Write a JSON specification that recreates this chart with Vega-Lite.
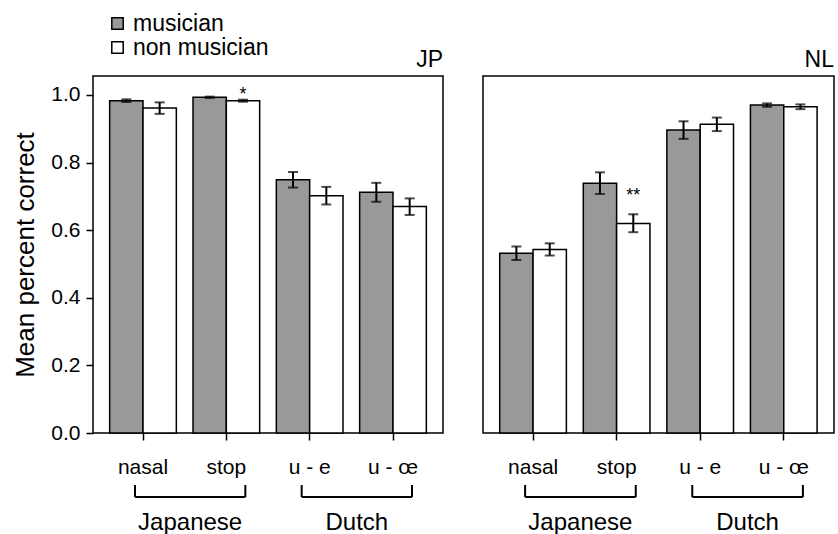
{
  "$schema": "https://vega.github.io/schema/vega-lite/v6.json",
  "padding": {"left": 12, "top": 12, "right": 0, "bottom": 0},
  "config": {
    "font": "Liberation Sans",
    "view": {"stroke": "black", "strokeWidth": 1.5},
    "title": {"fontSize": 23, "fontWeight": "normal", "anchor": "end", "color": "black", "offset": 4},
    "axis": {"labelColor": "black", "titleColor": "black", "tickColor": "black", "grid": false, "domain": false}
  },
  "datasets": {
    "bars": [
      {"panel": "JP", "cond": "nasal", "group": "musician", "mean": 0.983, "lo": 0.979, "hi": 0.987},
      {"panel": "JP", "cond": "nasal", "group": "non musician", "mean": 0.961, "lo": 0.944, "hi": 0.978},
      {"panel": "JP", "cond": "stop", "group": "musician", "mean": 0.993, "lo": 0.991, "hi": 0.995},
      {"panel": "JP", "cond": "stop", "group": "non musician", "mean": 0.983, "lo": 0.980, "hi": 0.986},
      {"panel": "JP", "cond": "u - e", "group": "musician", "mean": 0.749, "lo": 0.726, "hi": 0.772},
      {"panel": "JP", "cond": "u - e", "group": "non musician", "mean": 0.702, "lo": 0.676, "hi": 0.728},
      {"panel": "JP", "cond": "u - œ", "group": "musician", "mean": 0.712, "lo": 0.684, "hi": 0.740},
      {"panel": "JP", "cond": "u - œ", "group": "non musician", "mean": 0.670, "lo": 0.645, "hi": 0.694},
      {"panel": "NL", "cond": "nasal", "group": "musician", "mean": 0.532, "lo": 0.512, "hi": 0.552},
      {"panel": "NL", "cond": "nasal", "group": "non musician", "mean": 0.543, "lo": 0.525, "hi": 0.561},
      {"panel": "NL", "cond": "stop", "group": "musician", "mean": 0.739, "lo": 0.707, "hi": 0.771},
      {"panel": "NL", "cond": "stop", "group": "non musician", "mean": 0.620, "lo": 0.594, "hi": 0.647},
      {"panel": "NL", "cond": "u - e", "group": "musician", "mean": 0.896, "lo": 0.870, "hi": 0.922},
      {"panel": "NL", "cond": "u - e", "group": "non musician", "mean": 0.913, "lo": 0.893, "hi": 0.933},
      {"panel": "NL", "cond": "u - œ", "group": "musician", "mean": 0.970, "lo": 0.965, "hi": 0.975},
      {"panel": "NL", "cond": "u - œ", "group": "non musician", "mean": 0.965, "lo": 0.958, "hi": 0.972}
    ],
    "sig": [
      {"panel": "JP", "cond": "stop", "group": "non musician", "label": "*", "level": 0.986},
      {"panel": "NL", "cond": "stop", "group": "non musician", "label": "**", "level": 0.687}
    ],
    "brackets": [
      {"panel": "JP", "label": "Japanese", "from": "nasal", "to": "stop"},
      {"panel": "JP", "label": "Dutch", "from": "u - e", "to": "u - œ"},
      {"panel": "NL", "label": "Japanese", "from": "nasal", "to": "stop"},
      {"panel": "NL", "label": "Dutch", "from": "u - e", "to": "u - œ"}
    ]
  },
  "hconcat": [
    {
      "title": "JP",
      "width": 350,
      "height": 357,
      "layer": [
        {
          "data": {"name": "bars"},
          "transform": [{"filter": "datum.panel === 'JP'"}],
          "mark": {"type": "bar", "stroke": "black", "strokeWidth": 1.5},
          "encoding": {
            "x": {"field": "cond", "type": "nominal", "sort": null,
                  "scale": {"domain": ["nasal", "stop", "u - e", "u - œ"], "paddingInner": 0.2, "paddingOuter": 0.2},
                  "axis": {"title": null, "labelAngle": 0, "labelFontSize": 21, "tickSize": 7, "tickWidth": 1.5, "labelPadding": 16}},
            "xOffset": {"field": "group", "type": "nominal", "scale": {"domain": ["musician", "non musician"], "paddingInner": 0, "paddingOuter": 0}},
            "y": {"field": "mean", "type": "quantitative", "title": "Mean percent correct",
                  "scale": {"domain": [0, 1.056], "nice": false, "zero": true},
                  "axis": {"values": [0, 0.2, 0.4, 0.6, 0.8, 1.0], "format": ".1f",
                           "labelFontSize": 21, "titleFontSize": 26, "titleFontWeight": "normal", "tickSize": 7, "tickWidth": 1.5,
                           "labelPadding": 6, "titlePadding": 12}},
            "fill": {"field": "group", "type": "nominal",
                     "scale": {"domain": ["musician", "non musician"], "range": ["#999999", "#ffffff"]},
                     "legend": {"title": null, "orient": "none", "legendX": 13, "legendY": -64, "symbolType": "square",
                                "symbolSize": 130, "symbolStrokeColor": "black", "symbolStrokeWidth": 1.5,
                                "labelFontSize": 23, "labelColor": "black", "labelOffset": 4, "rowPadding": 0, "padding": 0}}
          }
        },
        {
          "data": {"name": "bars"},
          "transform": [{"filter": "datum.panel === 'JP'"}],
          "mark": {"type": "rule", "stroke": "black", "strokeWidth": 2},
          "encoding": {
            "x": {"field": "cond", "type": "nominal", "sort": null, "title": null},
            "xOffset": {"field": "group", "type": "nominal"},
            "y": {"field": "lo", "type": "quantitative", "title": "Mean percent correct"},
            "y2": {"field": "hi"}
          }
        },
        {
          "data": {"name": "bars"},
          "transform": [{"filter": "datum.panel === 'JP'"}],
          "mark": {"type": "tick", "color": "black", "size": 10, "thickness": 2, "orient": "horizontal"},
          "encoding": {
            "x": {"field": "cond", "type": "nominal", "sort": null, "title": null},
            "xOffset": {"field": "group", "type": "nominal"},
            "y": {"field": "lo", "type": "quantitative", "title": "Mean percent correct"}
          }
        },
        {
          "data": {"name": "bars"},
          "transform": [{"filter": "datum.panel === 'JP'"}],
          "mark": {"type": "tick", "color": "black", "size": 10, "thickness": 2, "orient": "horizontal"},
          "encoding": {
            "x": {"field": "cond", "type": "nominal", "sort": null, "title": null},
            "xOffset": {"field": "group", "type": "nominal"},
            "y": {"field": "hi", "type": "quantitative", "title": "Mean percent correct"}
          }
        },
        {
          "data": {"name": "sig"},
          "transform": [{"filter": "datum.panel === 'JP'"}],
          "mark": {"type": "text", "fontSize": 18, "color": "black", "baseline": "alphabetic", "align": "center"},
          "encoding": {
            "x": {"field": "cond", "type": "nominal", "sort": null, "title": null},
            "xOffset": {"field": "group", "type": "nominal"},
            "y": {"field": "level", "type": "quantitative", "title": "Mean percent correct"},
            "text": {"field": "label"}
          }
        },
        {
          "data": {"name": "brackets"},
          "transform": [{"filter": "datum.panel === 'JP'"}],
          "mark": {"type": "rule", "stroke": "black", "strokeWidth": 2},
          "encoding": {
            "x": {"field": "from", "type": "nominal", "bandPosition": 0.38, "title": null},
            "x2": {"field": "to", "bandPosition": 0.785},
            "y": {"datum": -0.1893, "title": "Mean percent correct"}
          }
        },
        {
          "data": {"name": "brackets"},
          "transform": [{"filter": "datum.panel === 'JP'"}],
          "mark": {"type": "rule", "stroke": "black", "strokeWidth": 2},
          "encoding": {
            "x": {"field": "from", "type": "nominal", "bandPosition": 0.38, "title": null},
            "y": {"datum": -0.1538, "title": "Mean percent correct"},
            "y2": {"datum": -0.1893}
          }
        },
        {
          "data": {"name": "brackets"},
          "transform": [{"filter": "datum.panel === 'JP'"}],
          "mark": {"type": "rule", "stroke": "black", "strokeWidth": 2},
          "encoding": {
            "x": {"field": "to", "type": "nominal", "bandPosition": 0.785, "title": null},
            "y": {"datum": -0.1538, "title": "Mean percent correct"},
            "y2": {"datum": -0.1893}
          }
        },
        {
          "data": {"name": "brackets"},
          "transform": [{"filter": "datum.panel === 'JP'"}],
          "mark": {"type": "text", "fontSize": 24, "color": "black", "baseline": "alphabetic", "align": "center"},
          "encoding": {
            "x": {"field": "to", "type": "nominal", "bandPosition": -0.043, "title": null},
            "y": {"datum": -0.287, "title": "Mean percent correct"},
            "text": {"field": "label"}
          }
        }
      ]
    },
    {
      "title": "NL",
      "width": 351,
      "height": 357,
      "layer": [
        {
          "data": {"name": "bars"},
          "transform": [{"filter": "datum.panel === 'NL'"}],
          "mark": {"type": "bar", "stroke": "black", "strokeWidth": 1.5},
          "encoding": {
            "x": {"field": "cond", "type": "nominal", "sort": null,
                  "scale": {"domain": ["nasal", "stop", "u - e", "u - œ"], "paddingInner": 0.2, "paddingOuter": 0.2},
                  "axis": {"title": null, "labelAngle": 0, "labelFontSize": 21, "tickSize": 7, "tickWidth": 1.5, "labelPadding": 16}},
            "xOffset": {"field": "group", "type": "nominal", "scale": {"domain": ["musician", "non musician"], "paddingInner": 0, "paddingOuter": 0}},
            "y": {"field": "mean", "type": "quantitative",
                  "scale": {"domain": [0, 1.056], "nice": false, "zero": true},
                  "axis": {"title": null, "labels": false, "ticks": false}},
            "fill": {"field": "group", "type": "nominal",
                     "scale": {"domain": ["musician", "non musician"], "range": ["#999999", "#ffffff"]}}
          }
        },
        {
          "data": {"name": "bars"},
          "transform": [{"filter": "datum.panel === 'NL'"}],
          "mark": {"type": "rule", "stroke": "black", "strokeWidth": 2},
          "encoding": {
            "x": {"field": "cond", "type": "nominal", "sort": null, "title": null},
            "xOffset": {"field": "group", "type": "nominal"},
            "y": {"field": "lo", "type": "quantitative", "title": null},
            "y2": {"field": "hi"}
          }
        },
        {
          "data": {"name": "bars"},
          "transform": [{"filter": "datum.panel === 'NL'"}],
          "mark": {"type": "tick", "color": "black", "size": 10, "thickness": 2, "orient": "horizontal"},
          "encoding": {
            "x": {"field": "cond", "type": "nominal", "sort": null, "title": null},
            "xOffset": {"field": "group", "type": "nominal"},
            "y": {"field": "lo", "type": "quantitative", "title": null}
          }
        },
        {
          "data": {"name": "bars"},
          "transform": [{"filter": "datum.panel === 'NL'"}],
          "mark": {"type": "tick", "color": "black", "size": 10, "thickness": 2, "orient": "horizontal"},
          "encoding": {
            "x": {"field": "cond", "type": "nominal", "sort": null, "title": null},
            "xOffset": {"field": "group", "type": "nominal"},
            "y": {"field": "hi", "type": "quantitative", "title": null}
          }
        },
        {
          "data": {"name": "sig"},
          "transform": [{"filter": "datum.panel === 'NL'"}],
          "mark": {"type": "text", "fontSize": 18, "color": "black", "baseline": "alphabetic", "align": "center"},
          "encoding": {
            "x": {"field": "cond", "type": "nominal", "sort": null, "title": null},
            "xOffset": {"field": "group", "type": "nominal"},
            "y": {"field": "level", "type": "quantitative", "title": null},
            "text": {"field": "label"}
          }
        },
        {
          "data": {"name": "brackets"},
          "transform": [{"filter": "datum.panel === 'NL'"}],
          "mark": {"type": "rule", "stroke": "black", "strokeWidth": 2},
          "encoding": {
            "x": {"field": "from", "type": "nominal", "bandPosition": 0.38, "title": null},
            "x2": {"field": "to", "bandPosition": 0.785},
            "y": {"datum": -0.1893, "title": null}
          }
        },
        {
          "data": {"name": "brackets"},
          "transform": [{"filter": "datum.panel === 'NL'"}],
          "mark": {"type": "rule", "stroke": "black", "strokeWidth": 2},
          "encoding": {
            "x": {"field": "from", "type": "nominal", "bandPosition": 0.38, "title": null},
            "y": {"datum": -0.1538, "title": null},
            "y2": {"datum": -0.1893}
          }
        },
        {
          "data": {"name": "brackets"},
          "transform": [{"filter": "datum.panel === 'NL'"}],
          "mark": {"type": "rule", "stroke": "black", "strokeWidth": 2},
          "encoding": {
            "x": {"field": "to", "type": "nominal", "bandPosition": 0.785, "title": null},
            "y": {"datum": -0.1538, "title": null},
            "y2": {"datum": -0.1893}
          }
        },
        {
          "data": {"name": "brackets"},
          "transform": [{"filter": "datum.panel === 'NL'"}],
          "mark": {"type": "text", "fontSize": 24, "color": "black", "baseline": "alphabetic", "align": "center"},
          "encoding": {
            "x": {"field": "to", "type": "nominal", "bandPosition": -0.043, "title": null},
            "y": {"datum": -0.287, "title": null},
            "text": {"field": "label"}
          }
        }
      ]
    }
  ],
  "spacing": 38
}
